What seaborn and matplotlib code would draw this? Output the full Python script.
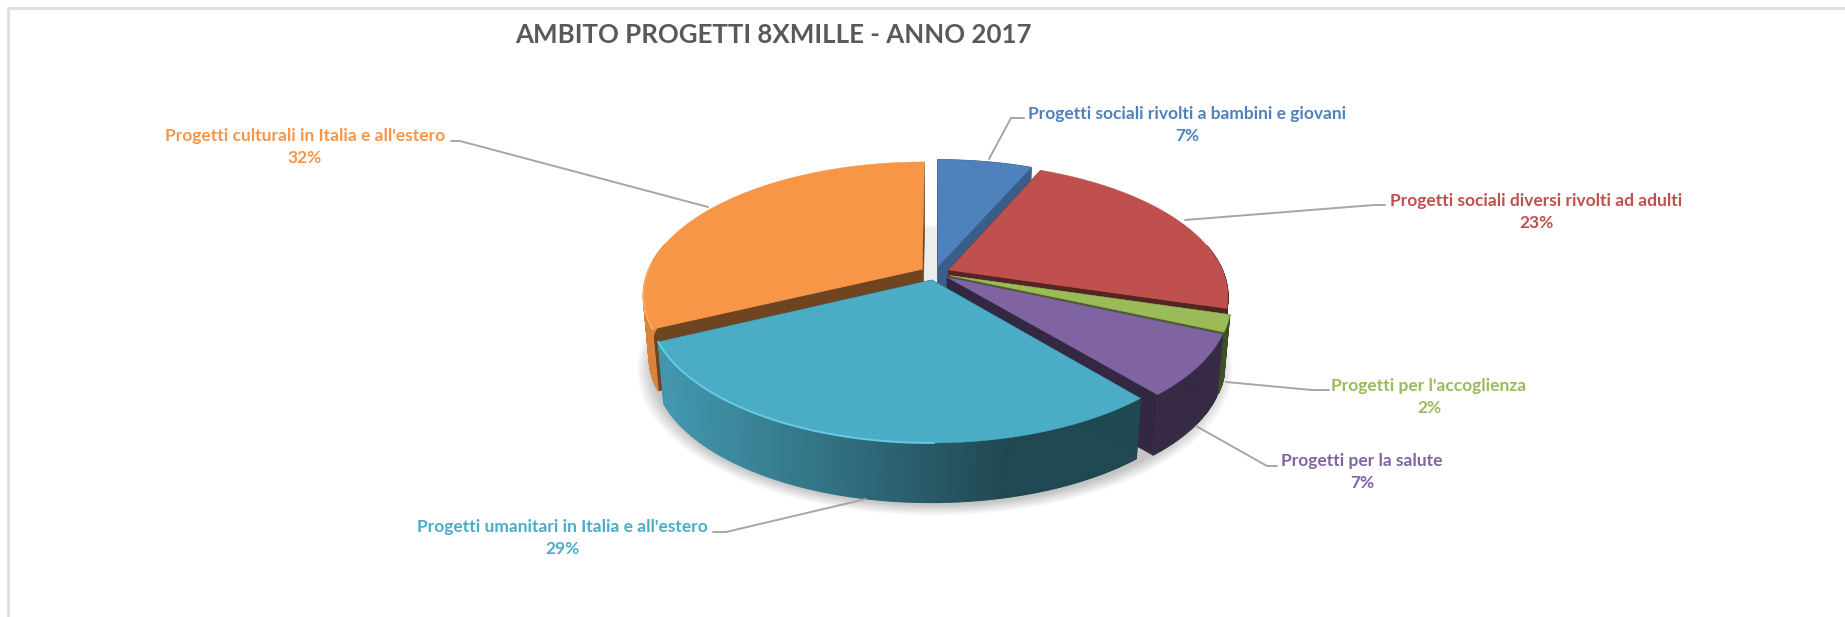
import numpy as np
import matplotlib
matplotlib.use("Agg")
import matplotlib.pyplot as plt
import seaborn as sns

labels = ["Progetti sociali rivolti a bambini e giovani",
          "Progetti sociali diversi rivolti ad adulti",
          "Progetti per l'accoglienza",
          "Progetti per la salute",
          "Progetti umanitari in Italia e all'estero",
          "Progetti culturali in Italia e all'estero"]
values = [6.6, 23.0, 2.0, 7.3, 29.0, 32.1]
colors = ["#4F81BD", "#C0504D", "#9BBB59", "#8064A2", "#4BACC6", "#F79646"]
side_shade = [0.73, 0.45, 0.5, 0.4, 0.42, 0.45]

# perspective settings for the tilted pie (pixels)
CX, CY = 935, 273
RX, RY = 275, 129
PERSP = 0.19
EXPLODE = 0.055
DEPTH = 63

sns.set_theme(style="white")
plt.rcParams['font.family'] = ['Lato', 'DejaVu Sans']
palette = sns.color_palette(colors)


def project(u, v, low=0.0):
    p = 1 / (1 + PERSP * v)
    x = CX + RX * u * p
    y = CY - RY * v * p
    s = 1 - 0.02 * low
    return CX + (x - CX) * s, CY + (y - CY) * s + DEPTH * low


def shade(col, f):
    return tuple(min(c * f, 1) for c in col)


def wall_factor(x):
    return np.interp(x - CX, [-270, 70], [0.88, 0.42])


fig, ax = plt.subplots(figsize=(18.45, 6.17), dpi=100)
fig.subplots_adjust(0, 0, 1, 1)
ax.set_xlim(0, 1845)
ax.set_ylim(617, 0)
ax.axis("off")

# chart frame
ax.plot([8, 8, 1845], [617, 8, 8], color="#E0E0E0", lw=2.2)

# soft shadow under the pie
circle = np.linspace(0, 2 * np.pi, 240)
for grow in np.linspace(1.05, 1.0, 10):
    sx, sy = project(grow * np.sin(circle) * 1.03, grow * np.cos(circle) * 1.05, 1.05)
    ax.fill(sx, sy, color="black", alpha=0.024, lw=0, zorder=1)
# the ground behind the slices stays pale, only the rim shows the shadow
sx, sy = project(0.97 * np.sin(circle), 0.97 * np.cos(circle), 0.7)
ax.fill(sx, sy, color="white", alpha=0.7, lw=0, zorder=1)

# slices, clockwise from the top, back ones first
edges = np.cumsum([0] + values) / sum(values) * 2 * np.pi
order = [5, 0, 1, 2, 3, 4]
for k, i in enumerate(order):
    t1, t2 = edges[i], edges[i + 1]
    tm = (t1 + t2) / 2
    ou, ov = EXPLODE * np.sin(tm), EXPLODE * np.cos(tm)
    base = palette[i]
    t = np.linspace(t1, t2, max(int((t2 - t1) * 120), 6))
    u, v = ou + np.sin(t), ov + np.cos(t)
    z = 2 + k * 3

    # radial sides
    for end in (t1, t2):
        ru = [ou, ou + np.sin(end)]
        rv = [ov, ov + np.cos(end)]
        x0, y0 = project(np.array(ru), np.array(rv))
        x1, y1 = project(np.array(ru), np.array(rv), 1)
        ax.fill(np.r_[x0, x1[::-1]], np.r_[y0, y1[::-1]], color=shade(base, side_shade[i]),
                lw=0.5, zorder=z)

    # outer wall, shaded from left to right, only the part facing the viewer
    xt, yt = project(u, v)
    xb, yb = project(u, v, 1)
    for j in range(len(t) - 1):
        if np.cos(t[j]) > 0.2 and i != 0:
            continue
        f = side_shade[i] if i == 0 else wall_factor((xt[j] + xt[j + 1]) / 2)
        ax.fill([xt[j], xt[j + 1], xb[j + 1], xb[j]], [yt[j], yt[j + 1], yb[j + 1], yb[j]],
                color=shade(base, f), lw=0.8, zorder=z + 1)

    # top face
    ax0, ay0 = project(np.array([ou]), np.array([ov]))
    ax.fill(np.r_[ax0, xt], np.r_[ay0, yt], color=base, lw=0.3, zorder=z + 2)

    # light rim on the front edge
    if i == 4:
        rim = xt < CX
        ax.plot(xt[rim], yt[rim], color="#66CBE8", lw=1.4, zorder=z + 2)
    if i == 5:
        rim = yt > CY - 10
        ax.plot(xt[rim], yt[rim], color="#FBAE68", lw=1.2, zorder=z + 2)

# leader lines
leaders = [([989, 1011, 1024], [159, 118, 118]),
           ([1185, 1374, 1385], [220, 205, 205]),
           ([1226, 1312, 1329], [382, 390, 390]),
           ([1196, 1267, 1277], [426, 466, 466]),
           ([866, 726, 713], [499, 532, 532]),
           ([708, 460, 451], [207, 141, 141])]
for lx, ly in leaders:
    ax.plot(lx, ly, color="#A6A6A6", lw=1.4, zorder=30)

# data labels
label_pos = [(1187, 124), (1536, 211), (1429, 396), (1362, 471), (562, 537), (305, 146)]
for name, val, col, (px, py) in zip(labels, values, palette, label_pos):
    ax.text(px, py - 10, name, color=col, fontsize=12.5, fontweight="bold", ha="center", va="center", zorder=31)
    ax.text(px, py + 12, f"{val:.0f}%", color=col, fontsize=12.5, fontweight="bold", ha="center", va="center", zorder=31)

ax.text(773, 35, "AMBITO PROGETTI 8XMILLE - ANNO 2017", color="#595959", fontsize=18.6,
        fontweight="bold", ha="center", va="center", zorder=31)

fig.savefig("out.png", dpi=100)
